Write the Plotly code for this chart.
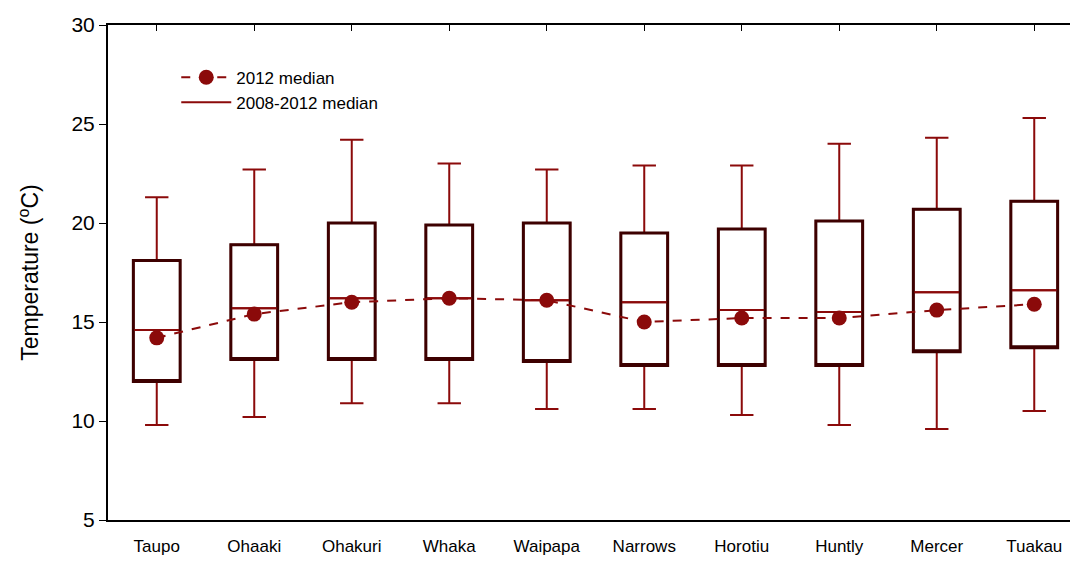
import plotly.graph_objects as go

sites = ["Taupo", "Ohaaki", "Ohakuri", "Whaka", "Waipapa", "Narrows", "Horotiu", "Huntly", "Mercer", "Tuakau"]
upper = [21.3, 22.7, 24.2, 23.0, 22.7, 22.9, 22.9, 24.0, 24.3, 25.3]
q3 = [18.1, 18.9, 20.0, 19.9, 20.0, 19.5, 19.7, 20.1, 20.7, 21.1]
med_all = [14.6, 15.7, 16.2, 16.2, 16.1, 16.0, 15.6, 15.5, 16.5, 16.6]
q1 = [12.0, 13.1, 13.1, 13.1, 13.0, 12.8, 12.8, 12.8, 13.5, 13.7]
lower = [9.8, 10.2, 10.9, 10.9, 10.6, 10.6, 10.3, 9.8, 9.6, 10.5]
med_2012 = [14.2, 15.4, 16.0, 16.2, 16.1, 15.0, 15.2, 15.2, 15.6, 15.9]

red = "#8b0a0a"
dark = "#3d0000"

fig = go.Figure()
# whiskers (red)
fig.add_trace(go.Box(x=sites, q1=q1, median=med_all, q3=q3, lowerfence=lower, upperfence=upper,
                     line=dict(color=red, width=2), fillcolor="rgba(0,0,0,0)", whiskerwidth=0.5,
                     width=0.48, showlegend=False, hoverinfo="skip"))
# box outline (dark)
fig.add_trace(go.Box(x=sites, q1=q1, median=q1, q3=q3, lowerfence=q1, upperfence=q3,
                     line=dict(color=dark, width=3), fillcolor="rgba(0,0,0,0)", whiskerwidth=0,
                     width=0.48, showlegend=False, hoverinfo="skip"))
# median of 2008-2012 in red on top
fig.add_trace(go.Box(x=sites, q1=med_all, median=med_all, q3=med_all, lowerfence=med_all, upperfence=med_all,
                     line=dict(color=red, width=2), fillcolor="rgba(0,0,0,0)", whiskerwidth=0,
                     width=0.46, showlegend=False, hoverinfo="skip"))
fig.add_trace(go.Scatter(x=sites, y=med_2012, mode="lines+markers", name="2012 median",
                         line=dict(color=red, width=2, dash="dash"),
                         marker=dict(color=red, size=15)))
fig.add_trace(go.Scatter(x=[None], y=[None], mode="lines", name="2008-2012 median",
                         line=dict(color=red, width=2)))
# helper trace for top/right axes
fig.add_trace(go.Scatter(x=sites, y=med_2012, xaxis="x2", yaxis="y2", mode="markers",
                         marker=dict(opacity=0), showlegend=False, hoverinfo="skip"))

fig.update_layout(
    width=1078, height=547, plot_bgcolor="white", paper_bgcolor="white",
    margin=dict(l=100, r=3, t=17, b=35, autoexpand=False),
    font=dict(family="Liberation Sans, Arial", color="black"),
    boxmode="overlay",
    xaxis=dict(type="category", categoryorder="array", categoryarray=sites, range=[-0.5, 9.5],
               showline=True, linecolor="black", linewidth=2, ticks="", automargin=False,
               tickfont=dict(size=17), showgrid=False, ticklabelstandoff=10),
    xaxis2=dict(overlaying="x", side="top", type="category", categoryorder="array",
                categoryarray=sites, range=[-0.5, 9.5], matches="x", automargin=False,
                showline=True, linecolor="black", linewidth=2, ticks="inside", ticklen=6,
                tickcolor="black", showticklabels=False, showgrid=False),
    yaxis=dict(range=[5, 30], dtick=5, showline=True, linecolor="black", linewidth=2,
               ticks="outside", ticklen=7, tickcolor="black", tickfont=dict(size=21),
               showgrid=False, zeroline=False, automargin=False,
               title=dict(text="Temperature (<sup>o</sup>C)", font=dict(size=23), standoff=26)),
    yaxis2=dict(overlaying="y", side="right", range=[5, 30], dtick=5, matches="y", automargin=False,
                showline=False, ticks="inside", ticklen=6, tickcolor="black",
                showticklabels=False, showgrid=False, zeroline=False),
    legend=dict(x=0.07, y=0.93, xanchor="left", yanchor="top", font=dict(size=17),
                bgcolor="rgba(0,0,0,0)", tracegroupgap=20, itemwidth=50),
)

fig.write_html("out.html")
